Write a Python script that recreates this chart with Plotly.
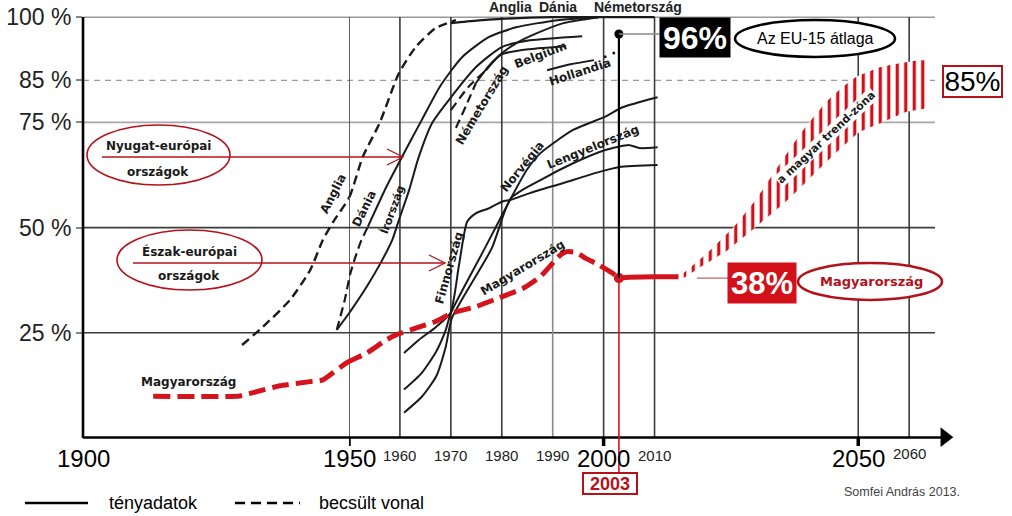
import plotly.graph_objects as go

W, H = 1012, 516
ML, MR, MT, MB = 83, 57, 13, 78
PW, PH = W - ML - MR, H - MT - MB

SANS = "Liberation Sans, Arial, sans-serif"
LBL = "DejaVu Sans, Verdana, sans-serif"
RED = "#d4141c"
DRED = "#b3121b"
INK = "#1a1a1a"


def fx(px):
    return (px - ML) / PW


def fy(py):
    return (H - MB - py) / PH


# ---------------- data ----------------
hu_est_year = [1913.2, 1929.5, 1932.0, 1937.0, 1942.7, 1945.1, 1947.0, 1949.6, 1953.5,
               1957.3, 1959.2, 1963.1, 1967.0, 1970.3, 1974.9, 1980.1, 1984.2, 1987.6,
               1991.5, 1992.8, 1994.6, 1996.5, 1999.1, 2001.7, 2003.0]
hu_est_pct = [9.9, 10.0, 10.8, 12.4, 13.4, 13.8, 15.5, 17.9, 20.2,
              23.3, 24.5, 26.1, 27.7, 29.7, 31.2, 33.6, 35.6, 38.4,
              43.5, 44.3, 44.1, 42.7, 41.1, 39.2, 38.0]
hu_year = [2003.0, 2005.0, 2010.0, 2014.7]
hu_pct = [38.0, 38.2, 38.3, 38.3]

anglia_est_year = [1929.9, 1933.8, 1938.9, 1942.7, 1945.1, 1947.0, 1950.1, 1952.7, 1956.0,
                   1959.8, 1963.1, 1967.0, 1971.0]
anglia_est_pct = [22.1, 26.4, 32.8, 39.9, 47.1, 51.3, 57.3, 66.8, 74.8, 86.7, 92.9, 97.4, 99.3]
anglia_year = [1970.0, 1975.0, 1980.0, 1990.0, 2010.0]
anglia_pct = [98.6, 99.2, 99.6, 100.0, 100.0]

dania_est_year = [1947.7, 1949.2, 1950.2, 1951.2, 1952.3, 1953.7]
dania_est_pct = [25.7, 32.8, 38.8, 42.8, 46.6, 50.2]
dania_year = [1953.7, 1957.3, 1960.4, 1964.3, 1967.9, 1972.2, 1977.5, 1982.8, 1990.9, 1999.0]
dania_pct = [50.2, 59.6, 66.8, 75.6, 83.6, 90.5, 95.3, 97.6, 99.3, 100.0]

irorszag_year = [1947.7, 1950.5, 1953.5, 1956.3, 1958.5, 1959.8, 1961.8, 1963.7,
                 1966.3, 1969.6, 1974.9, 1980.0, 1985.5, 1995.8]
irorszag_pct = [25.7, 30.5, 36.0, 41.8, 47.1, 51.8, 58.9, 66.8,
                74.8, 80.3, 88.1, 92.9, 94.5, 95.5]

nemet_est1_year = [1970.0, 1973.5, 1976.9]
nemet_est1_pct = [77.9, 83.5, 87.4]
nemet_est2_year = [1971.0, 1973.0, 1974.9]
nemet_est2_pct = [73.7, 79.0, 84.3]
nemet_year = [1976.9, 1979.6, 1982.8, 1986.9, 1992.1, 1999.0]
nemet_pct = [87.4, 91.0, 93.8, 96.2, 98.6, 100.0]

belgium_year = [1974.9, 1977.5, 1980.0, 1985.5, 1992.6]
belgium_pct = [84.3, 88.5, 91.2, 92.4, 93.1]

hollandia_year = [1988.9, 1993.5, 1998.1]
hollandia_pct = [87.4, 88.8, 89.8]
hollandia_dot_year = [2000.3, 2002.0]
hollandia_dot_pct = [90.6, 91.5]

finn_year = [1960.8, 1963.7, 1967.1, 1969.9, 1971.6, 1973.2, 1974.9, 1977.5, 1980.1,
             1981.8, 1985.5, 1992.1, 1998.5, 2003.1, 2010.6]
finn_pct = [20.2, 23.3, 26.4, 29.7, 41.1, 51.4, 53.4, 54.6, 56.2,
            56.6, 58.2, 60.6, 63.0, 64.4, 64.9]

norv_year = [1960.8, 1964.3, 1967.1, 1969.0, 1970.0, 1976.5, 1981.8, 1984.9, 1987.6,
             1994.0, 2000.2, 2003.7, 2010.6]
norv_pct = [11.5, 15.5, 20.5, 25.7, 29.7, 44.7, 57.0, 63.7, 67.7, 73.2, 76.3, 78.6, 81.0]

lengy_year = [1960.8, 1964.3, 1967.1, 1969.0, 1970.2, 1978.0, 1981.8, 1987.6, 1994.0,
              2000.2, 2005.1, 2007.1, 2010.6]
lengy_pct = [6.0, 9.8, 14.6, 21.7, 28.5, 45.0, 57.0, 61.3, 65.3, 68.4, 69.6, 68.9, 69.1]

trend_up_year = [2015.7, 2020.4, 2025.6, 2030.3, 2033.4, 2038.8, 2044.1, 2049.2, 2054.3,
                 2059.4, 2063.4]
trend_up_pct = [39.2, 44.0, 50.2, 57.3, 63.0, 72.5, 80.3, 85.5, 88.1, 89.3, 89.6]
trend_lo_year = [2015.7, 2019.1, 2024.4, 2031.5, 2036.8, 2042.1, 2050.0, 2054.3, 2059.4, 2063.4]
trend_lo_pct = [38.0, 40.7, 44.7, 51.8, 57.3, 63.7, 72.5, 74.8, 77.5, 78.6]

eu15_year, eu15_pct = 2003, 96
hu2003_year, hu2003_pct = 2003, 38
target_pct = 85

ytick_vals = [25, 50, 75, 85, 100]
ytick_text = ["25 %", "50 %", "75 %", "85 %", "100 %"]
xtick_big = [1900, 1950, 2000, 2050]
xtick_small = [1960, 1970, 1980, 1990, 2010, 2060]
vgrid_years = [1950, 1960, 1970, 1980, 1990, 2000, 2010, 2050, 2060]
axis_tick_years = [1950, 2000, 2050]

# ---------------- figure ----------------
fig = go.Figure()


def line(xs, ys, color=INK, width=2.0, dash=None, both=False, smooth=0.6):
    for xa in (["x", "x2"] if both else ["x2"]):
        fig.add_trace(go.Scatter(
            x=xs, y=ys, xaxis=xa, yaxis="y", mode="lines",
            line=dict(color=color, width=width, dash=dash, shape="spline", smoothing=smooth),
            hoverinfo="skip", showlegend=False))


# trend zone (hatched)
fig.add_trace(go.Scatter(
    x=trend_up_year + trend_lo_year[::-1], y=trend_up_pct + trend_lo_pct[::-1],
    xaxis="x2", yaxis="y", mode="lines", fill="toself", fillcolor="white",
    line=dict(width=0, color="rgba(0,0,0,0)", shape="spline", smoothing=0.5),
    fillpattern=dict(shape="|", size=8.5, solidity=0.38, fgcolor="#d0101a", bgcolor="white",
                     fgopacity=1, fillmode="replace"),
    hoverinfo="skip", showlegend=False))

EST = "9px,5px"
line(anglia_est_year, anglia_est_pct, width=2.4, dash=EST, both=True)
line(anglia_year, anglia_pct, width=2.2)
line(dania_est_year, dania_est_pct, width=2.2, dash=EST, both=True)
line(dania_year, dania_pct, width=2.0)
line(irorszag_year, irorszag_pct, width=2.0, both=True)
line(nemet_est1_year, nemet_est1_pct, width=2.2, dash=EST)
line(nemet_est2_year, nemet_est2_pct, width=2.2, dash=EST)
line(nemet_year, nemet_pct, width=2.0)
line(belgium_year, belgium_pct, width=2.0)
line(hollandia_year, hollandia_pct, width=2.0)
fig.add_trace(go.Scatter(x=hollandia_dot_year, y=hollandia_dot_pct, xaxis="x2", yaxis="y",
                         mode="markers", marker=dict(size=3, color=INK),
                         hoverinfo="skip", showlegend=False))
line(finn_year, finn_pct, width=2.0)
line(norv_year, norv_pct, width=2.0)
line(lengy_year, lengy_pct, width=2.0)

# Hungary
line(hu_est_year, hu_est_pct, color=RED, width=5, dash="17px,7px", both=True, smooth=0.5)
line(hu_year, hu_pct, color=RED, width=5, smooth=0.3)

# 2003 markers
fig.add_trace(go.Scatter(x=[hu2003_year], y=[hu2003_pct], xaxis="x2", yaxis="y", mode="markers",
                         marker=dict(size=10, color=RED), cliponaxis=False,
                         hoverinfo="skip", showlegend=False))
fig.add_trace(go.Scatter(x=[eu15_year], y=[eu15_pct], xaxis="x2", yaxis="y", mode="markers",
                         marker=dict(size=9, color="black"), cliponaxis=False,
                         hoverinfo="skip", showlegend=False))
# x axis arrow head
fig.add_trace(go.Scatter(x=[2067], y=[0.2], xaxis="x2", yaxis="y", mode="markers",
                         marker=dict(symbol="triangle-right", size=17, color="black"),
                         cliponaxis=False, hoverinfo="skip", showlegend=False))

# ---------------- shapes ----------------
shapes = []
hstyle = {100: ("#9a9a9a", None, 1.6), 85: ("#9a9a9a", "6px,5px", 1.4), 75: ("#a8a8a8", None, 1.6),
          50: ("#3c3c3c", None, 1.6), 25: ("#3c3c3c", None, 1.6)}
for v in ytick_vals:
    c, d, w = hstyle[v]
    shapes.append(dict(type="line", xref="paper", yref="y", x0=0, x1=fx(935), y0=v, y1=v,
                       layer="below", line=dict(color=c, width=w, dash=d)))
for yr in vgrid_years:
    c = "#8a8a8a" if yr == 1990 else "#3c3c3c"
    shapes.append(dict(type="line", xref="x2", yref="paper", x0=yr, x1=yr, y0=0, y1=fy(17),
                       layer="below", line=dict(color=c, width=1.6)))
# axes
shapes.append(dict(type="line", xref="paper", yref="paper", x0=0, x1=0, y0=fy(438), y1=fy(17),
                   line=dict(color="black", width=2.6)))
shapes.append(dict(type="line", xref="paper", yref="paper", x0=0, x1=fx(946), y0=fy(437.5),
                   y1=fy(437.5), line=dict(color="black", width=2.6)))
for yr in axis_tick_years:
    shapes.append(dict(type="line", xref="x2", yref="paper", x0=yr, x1=yr, y0=fy(437), y1=fy(446),
                       line=dict(color="black", width=3.5)))
# 2003 verticals
shapes.append(dict(type="line", xref="x2", yref="y", x0=eu15_year, x1=eu15_year, y0=hu2003_pct,
                   y1=eu15_pct, line=dict(color="black", width=2.2)))
shapes.append(dict(type="line", xref="x2", yref="y", x0=hu2003_year, x1=hu2003_year, y0=0,
                   y1=hu2003_pct, line=dict(color=RED, width=1.6)))
shapes.append(dict(type="line", xref="x2", yref="paper", x0=hu2003_year, x1=hu2003_year,
                   y0=fy(472), y1=0, line=dict(color=RED, width=1.6)))
shapes.append(dict(type="line", xref="x2", yref="y", x0=eu15_year, x1=2011, y0=eu15_pct,
                   y1=eu15_pct, line=dict(color="#8a8a8a", width=1.4)))
shapes.append(dict(type="line", xref="paper", yref="y", x0=fx(697), x1=fx(728), y0=hu2003_pct,
                   y1=hu2003_pct, line=dict(color="#c25a5a", width=1.2)))


def ellipse(x0, x1, y0, y1, color, width):
    shapes.append(dict(type="circle", xref="paper", yref="paper", x0=fx(x0), x1=fx(x1),
                       y0=fy(y1), y1=fy(y0), fillcolor="white", line=dict(color=color, width=width)))


def path(pts, color, width):
    d = "M " + " L ".join(f"{fx(a):.5f},{fy(b):.5f}" for a, b in pts)
    shapes.append(dict(type="path", xref="paper", yref="paper", path=d,
                       line=dict(color=color, width=width)))


ellipse(87, 230, 125, 185, DRED, 1.6)
ellipse(117, 262, 230, 290, DRED, 1.6)
ellipse(735, 895, 20, 57, "black", 2.6)
ellipse(798, 942, 263, 300, DRED, 2.6)
path([(102, 157), (403, 157)], DRED, 1.3)
path([(387, 149), (403, 157), (387, 165)], DRED, 1.3)
path([(133, 263), (445, 263)], DRED, 1.3)
path([(429, 255), (445, 263), (429, 271)], DRED, 1.3)
path([(25, 503), (88, 503)], "black", 2.6)
shapes.append(dict(type="line", xref="paper", yref="paper", x0=fx(235), x1=fx(300), y0=fy(503),
                   y1=fy(503), line=dict(color="black", width=2.6, dash="10px,6px")))

# ---------------- annotations ----------------
ann = []


def text(px, py, s, size, color=INK, family=SANS, angle=0, xanchor="center", **kw):
    ann.append(dict(x=fx(px), y=fy(py), xref="paper", yref="paper", text=s, showarrow=False,
                    font=dict(size=size, color=color, family=family), textangle=angle,
                    xanchor=xanchor, yanchor="middle", **kw))


for yr in xtick_big:
    ann.append(dict(x=yr, xref="x" if yr < 1950 else "x2", y=fy(458), yref="paper", text=str(yr),
                    showarrow=False, font=dict(size=24, color="black", family=SANS),
                    xanchor="center", yanchor="middle"))
for yr in xtick_small:
    ann.append(dict(x=yr, xref="x2", y=fy(456 if yr != 2060 else 453), yref="paper", text=str(yr),
                    showarrow=False, font=dict(size=15, color="#222", family=SANS),
                    xanchor="center", yanchor="middle"))

text(510, 7, "<b>Anglia</b>", 14, color="#222")
text(558, 7, "<b>Dánia</b>", 14, color="#222")
text(592, 7, "<b>Németország</b>", 14, color="#222", xanchor="left")

text(333, 194, "<b>Anglia</b>", 12, family=LBL, angle=-63)
text(364, 209, "<b>Dánia</b>", 12, family=LBL, angle=-64)
text(392, 210, "<b>Írország</b>", 11, family=LBL, angle=-70)
text(482, 105, "<b>Németország</b>", 12, family=LBL, angle=-59)
text(540, 55, "<b>Belgium</b>", 12, family=LBL, angle=-21)
text(580, 72, "<b>Hollandia</b>", 12, family=LBL, angle=-18)
text(449, 268, "<b>Finnország</b>", 12, family=LBL, angle=-74)
text(522, 167, "<b>Norvégia</b>", 12, family=LBL, angle=-51)
text(593, 147, "<b>Lengyelország</b>", 12, family=LBL, angle=-22)
text(522, 268, "<b>Magyarország</b>", 12, family=LBL, angle=-31)
text(188, 382, "<b>Magyarország</b>", 12, family=LBL)
text(826, 137, "<b>a magyar trend-zóna</b>", 11, family=LBL, angle=-43, bgcolor="white",
     borderpad=0)

text(158, 146, "<b>Nyugat-európai</b>", 12, family=LBL)
text(158, 172, "<b>országok</b>", 12, family=LBL)
text(189, 251, "<b>Észak-európai</b>", 12, family=LBL)
text(189, 276, "<b>országok</b>", 12, family=LBL)
text(815, 38, "Az EU-15 átlaga", 16, color="black")
text(871, 281, "<b>Magyarország</b>", 13, color=DRED, family=LBL)

text(695, 37.5, f"<b>{eu15_pct}%</b>", 32, color="white", bgcolor="black", width=68, height=37,
     borderpad=1)
text(762, 283, f"<b>{hu2003_pct}%</b>", 31, color="white", bgcolor="#d2111a", width=66, height=38,
     borderpad=1)
text(972.5, 81.5, f"{target_pct}%", 28, color="black", bgcolor="white", bordercolor=DRED,
     borderwidth=2, width=57, height=29, borderpad=0)
text(609.5, 483, f"<b>{hu2003_year}</b>", 18, color=DRED, bgcolor="white", bordercolor=DRED,
     borderwidth=2, width=52, height=19, borderpad=0)

text(107, 503, "tényadatok", 18, color="black", xanchor="left")
text(317, 503, "becsült vonal", 18, color="black", xanchor="left")
text(842, 492, "Somfei András 2013.", 12.5, color="#444", xanchor="left")

fig.update_layout(
    width=W, height=H, margin=dict(l=ML, r=MR, t=MT, b=MB, autoexpand=False),
    paper_bgcolor="white", plot_bgcolor="white", showlegend=False,
    shapes=shapes, annotations=ann,
    xaxis=dict(domain=[0, fx(349)], range=[1900, 1950], showgrid=False, zeroline=False,
               showticklabels=False, ticks="", showline=False, fixedrange=True, automargin=False),
    xaxis2=dict(domain=[fx(349), 1], range=[1950, 2069], anchor="y", showgrid=False,
                zeroline=False, showticklabels=False, ticks="", showline=False, fixedrange=True,
                automargin=False),
    yaxis=dict(domain=[0, 1], range=[0, 101], anchor="x", showgrid=False, zeroline=False,
               showline=False, tickvals=ytick_vals, ticktext=ytick_text, ticks="outside",
               ticklen=6, tickwidth=1.5, tickcolor="#888", automargin=False,
               tickfont=dict(size=23, color="#222", family=SANS), fixedrange=True),
)

fig.write_html("out.html", config={"responsive": False, "displayModeBar": False},
               post_script="document.body.style.margin='0px';document.body.style.overflow='hidden';")
